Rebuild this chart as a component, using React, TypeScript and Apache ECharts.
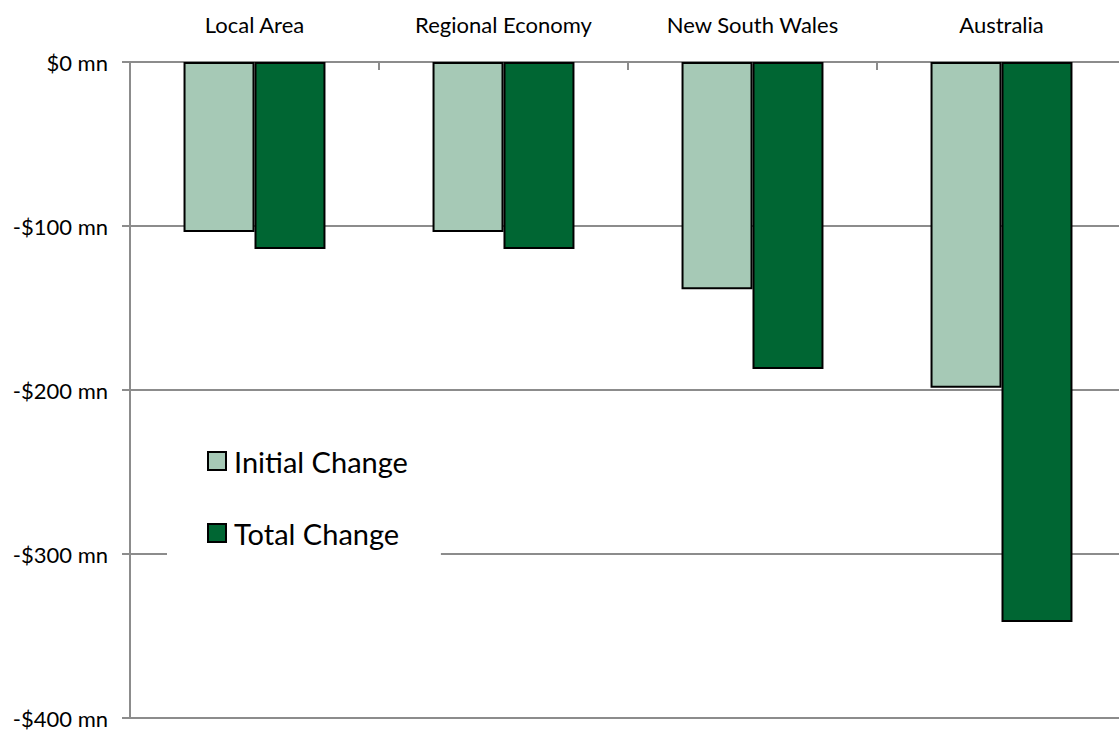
import React, { useEffect, useRef } from "react";
import * as echarts from "echarts";

const categories = ["Local Area", "Regional Economy", "New South Wales", "Australia"];
const initialChange = [-103.7, -103.7, -138.5, -198.6];
const totalChange = [-114, -114, -187.2, -341.5];
const seriesNames = ["Initial Change", "Total Change"];

const fmt = (v: number) => (v < 0 ? `-$${-v} mn` : `$${v} mn`);

export default function App() {
  const ref = useRef<HTMLDivElement>(null);
  useEffect(() => {
    if (!ref.current) return;
    const chart = echarts.init(ref.current, null, { renderer: "svg" });
    const gray = "#8c8c8c";
    chart.setOption({
      animation: false,
      backgroundColor: "#ffffff",
      textStyle: { fontFamily: "Lato" },
      grid: { left: 130, top: 62, right: 0, bottom: 14, containLabel: false },
      legend: {
        orient: "vertical",
        left: 167,
        top: 420,
        padding: [26, 33, 38, 40],
        backgroundColor: "#ffffff",
        itemWidth: 18,
        itemHeight: 18,
        itemGap: 42,
        icon: "rect",
        data: seriesNames,
        itemStyle: { borderColor: "#000", borderWidth: 2 },
        textStyle: {
          fontSize: 29,
          lineHeight: 30,
          color: "#000",
          fontFamily: "Lato",
          padding: [0, 0, 0, 3],
        },
      },
      xAxis: {
        type: "category",
        position: "top",
        data: categories,
        axisLine: { show: true, lineStyle: { color: gray, width: 2 } },
        axisTick: { show: true, inside: true, length: 8, lineStyle: { color: gray, width: 2 } },
        axisLabel: { fontSize: 22, color: "#000", margin: 27, fontFamily: "Lato" },
        splitLine: { show: false },
      },
      yAxis: {
        type: "value",
        min: -400,
        max: 0,
        interval: 100,
        axisLine: { show: true, lineStyle: { color: gray, width: 2 } },
        axisTick: { show: true, length: 8, lineStyle: { color: gray, width: 2 } },
        axisLabel: { fontSize: 22, color: "#000", margin: 22, formatter: fmt, fontFamily: "Lato" },
        splitLine: { show: true, lineStyle: { color: gray, width: 2 } },
      },
      series: [
        {
          name: seriesNames[0],
          type: "bar",
          data: initialChange,
          barGap: "0%",
          barCategoryGap: "43%",
          itemStyle: { color: "#a6c9b6", borderColor: "#000", borderWidth: 2 },
        },
        {
          name: seriesNames[1],
          type: "bar",
          data: totalChange,
          barGap: "0%",
          barCategoryGap: "43%",
          itemStyle: { color: "#006633", borderColor: "#000", borderWidth: 2 },
        },
      ],
    });
    return () => chart.dispose();
  }, []);
  return (
    <div
      style={{
        position: "fixed",
        left: 0,
        top: 0,
        width: 1119,
        height: 732,
        overflow: "hidden",
      }}
    >
      <div ref={ref} style={{ width: 1126, height: 732 }} />
    </div>
  );
}
